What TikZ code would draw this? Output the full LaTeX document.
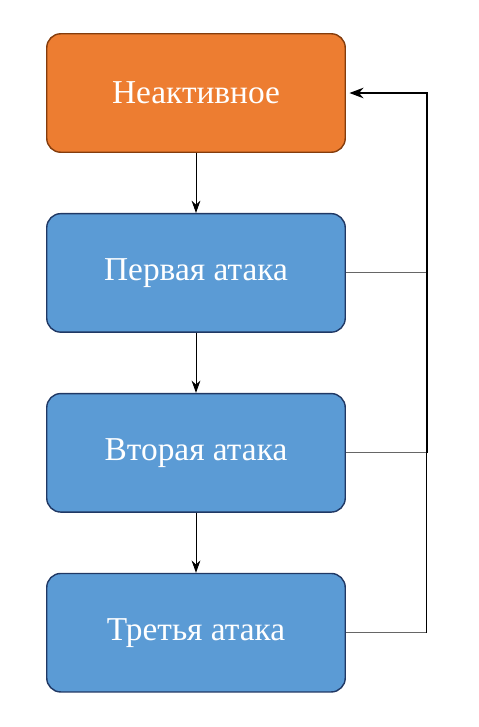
\documentclass[tikz,border=0pt]{standalone}
\usepackage{fontspec}
\setmainfont{Liberation Serif}
\usetikzlibrary{arrows.meta,positioning,calc}

\definecolor{idleorange}{HTML}{ED7D31}
\definecolor{idleedge}{HTML}{843C0C}
\definecolor{attackblue}{HTML}{5B9BD5}
\definecolor{attackedge}{HTML}{203864}

\tikzset{
    statebox/.style={rectangle, rounded corners=0.28cm, minimum width=5.97cm, minimum height=2.37cm,
        line width=0.8pt, text=white, font=\fontsize{19}{23}\selectfont},
    idle/.style={statebox, fill=idleorange, draw=idleedge},
    attack/.style={statebox, fill=attackblue, draw=attackedge},
    flow/.style={-{Stealth[length=7pt,width=5pt]}, line width=0.5pt},
    back/.style={draw=black!60, line width=0.6pt}
}

\begin{document}
\begin{tikzpicture}[node distance=1.2cm]

\useasboundingbox (0,0) rectangle (9.58,-14.54);

\node[idle] (idle) at (3.92,-1.86) {Неактивное};
\node[attack, below=of idle] (first) {Первая атака};
\node[attack, below=of first] (second) {Вторая атака};
\node[attack, below=of second] (third) {Третья атака};

\coordinate (r1) at ($(idle.east)+(1.62,0)$);
\coordinate (r2) at ($(first.east)+(1.62,0)$);
\coordinate (r3) at ($(second.east)+(1.62,0)$);
\coordinate (r4) at ($(third.east)+(1.62,0)$);

    \begin{scope} % down the chain
        \draw[flow] (idle) -- (first);
        \draw[flow] (first) -- (second);
        \draw[flow] (second) -- (third);
    \end{scope}

    \begin{scope} % way back
        \draw[back] (first.east) -- (r2);
        \draw[back] (second.east) -- (r3);
        \draw[back] (third.east) -- (r4);
        \draw[line width=0.6pt] (r4) -- (r3);
        \draw[-{Stealth[length=8pt,width=6pt]}, line width=1.1pt, shorten >=2pt] (r3) -- (r1) -- (idle.east);
    \end{scope}

\end{tikzpicture}
\end{document}
